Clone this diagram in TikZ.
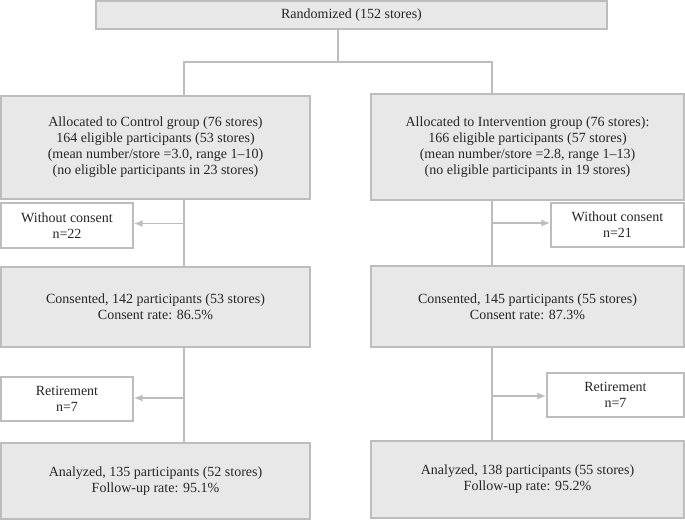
\documentclass[tikz,border=0pt]{standalone}
\usepackage{fontspec}
\setmainfont{Liberation Serif}
\usetikzlibrary{arrows.meta,positioning,calc}
\definecolor{boxfill}{HTML}{E8E8E9}
\definecolor{boxline}{HTML}{BDBDBD}
\definecolor{txt}{HTML}{262626}

\begin{document}
\begin{tikzpicture}[x=1pt, y=-1pt, >={Latex[length=9pt,width=7pt]},
    box/.style={draw=boxline, line width=1.3pt, fill=boxfill, align=center, inner sep=0pt,
      text=txt, font=\fontsize{14}{16}\selectfont},
    smallbox/.style={box, fill=white},
    link/.style={draw=boxline, line width=1.6pt},
    arr/.style={link, ->}]
  \useasboundingbox (0,0) rectangle (685,523);

  % Randomization
  \node[box, minimum width=511pt, minimum height=28pt] (rand) at (351.5,15) {Randomized (152 stores)};

  % Allocation
  \node[box, minimum width=309pt, minimum height=103pt] (ctrl) at (155.5,147.5)
    {Allocated to Control group (76 stores)\\164 eligible participants (53 stores)\\(mean number/store =3.0, range 1--10)\\(no eligible participants in 23 stores)};
  \node[box, minimum width=313pt, minimum height=106pt] (intv) at (527.5,147)
    {Allocated to Intervention group (76 stores):\\166 eligible participants (57 stores)\\(mean number/store =2.8, range 1--13)\\(no eligible participants in 19 stores)};

  % Without consent
  \node[smallbox, minimum width=132pt, minimum height=45pt] (nocL) at (67,225.5) {Without consent\\n=22};
  \node[smallbox, minimum width=133pt, minimum height=44pt] (nocR) at (617.5,225) {Without consent\\n=21};

  % Consented
  \node[box, minimum width=309pt, minimum height=80pt] (consL) at (155.5,307)
    {Consented, 142 participants (53 stores)\\Consent rate: 86.5\%};
  \node[box, minimum width=313pt, minimum height=81pt] (consR) at (527.5,306.5)
    {Consented, 145 participants (55 stores)\\Consent rate: 87.3\%};

  % Retirement
  \node[smallbox, minimum width=132pt, minimum height=44pt] (retL) at (67,399) {Retirement\\n=7};
  \node[smallbox, minimum width=137pt, minimum height=44pt] (retR) at (615.5,395) {Retirement\\n=7};

  % Analyzed
  \node[box, minimum width=309pt, minimum height=76pt] (anaL) at (155.5,481)
    {Analyzed, 135 participants (52 stores)\\Follow-up rate: 95.1\%};
  \node[box, minimum width=313pt, minimum height=77pt] (anaR) at (527.5,479.5)
    {Analyzed, 138 participants (55 stores)\\Follow-up rate: 95.2\%};

  % Split
  \coordinate (split) at (338,62);
  \coordinate (colL) at (184,62);
  \coordinate (colR) at (492,62);
  \draw[link] (rand.south -| split) -- (split);
  \draw[link] (colL |- ctrl.north) -- (colL) -- (colR) -- (colR |- intv.north);

  % Control column
  \draw[link] (ctrl.south -| colL) -- (consL.north -| colL);
  \draw[link] (consL.south -| colL) -- (anaL.north -| colL);
  \draw[arr] ($(nocL.east -| colL)+(0,-2)$) -- ($(nocL.east)+(0,-2)$);
  \draw[arr] ($(retL.east -| colL)+(0,-1)$) -- ($(retL.east)+(0,-1)$);

  % Intervention column
  \draw[link] (intv.south -| colR) -- (consR.north -| colR);
  \draw[link] (consR.south -| colR) -- (anaR.north -| colR);
  \draw[arr] ($(nocR.west -| colR)+(0,-2)$) -- ($(nocR.west)+(0,-2)$);
  \draw[arr] ($(retR.west -| colR)+(0,1)$) -- ($(retR.west)+(0,1)$);
\end{tikzpicture}
\end{document}
